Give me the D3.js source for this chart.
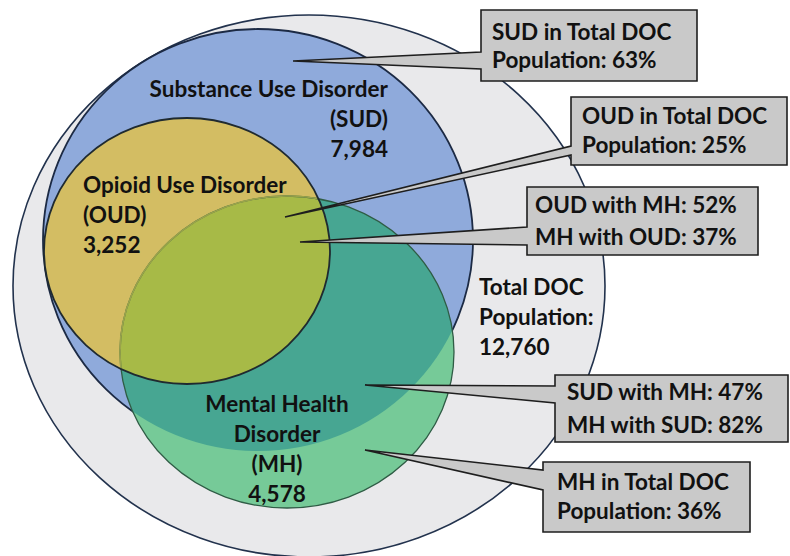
<!DOCTYPE html>
<html><head><meta charset="utf-8">
<script src="https://cdn.jsdelivr.net/npm/d3@7"></script>
<style>html,body{margin:0;padding:0;background:#fff;}svg{display:block;}</style>
</head><body><svg id="c" width="790" height="556"></svg>
<script>
// ---- data ----
const setKeys = ["TOTAL", "SUD", "OUD", "MH"];
const setCounts = [12760, 7984, 3252, 4578];
const setNames = [["Total DOC", "Population:"], ["Substance Use Disorder", "(SUD)"], ["Opioid Use Disorder", "(OUD)"], ["Mental Health", "Disorder", "(MH)"]];
const calloutText = [
  ["SUD in Total DOC", "Population: 63%"],
  ["OUD in Total DOC", "Population: 25%"],
  ["OUD with MH: 52%", "MH with OUD: 37%"],
  ["SUD with MH: 47%", "MH with SUD: 82%"],
  ["MH in Total DOC", "Population: 36%"]
];

// ---- layout (geometry / style) ----
const shapes = {
  TOTAL: {cx: 309, cy: 286, rx: 296, ry: 271, fill: "#e9e9eb", stroke: "#22324d"},
  SUD:   {cx: 258, cy: 240, rx: 215, ry: 211, fill: "#8faadb", stroke: "#1c2a44"},
  OUD:   {cx: 187, cy: 251, rx: 143, ry: 133, fill: "#d3bd63", stroke: "#1f2a30"},
  MH:    {cx: 287, cy: 352, rx: 167, ry: 156, fill: "#76ca98", stroke: "#2f5c45"}
};
const labelPos = {
  TOTAL: {x: 479, y: 295, anchor: "start"},
  SUD:   {x: 388, y: 97, anchor: "end"},
  OUD:   {x: 83, y: 193, anchor: "start"},
  MH:    {x: 277, y: 412, anchor: "middle"}
};
const lineH = 30;
const callouts = [
  {x0: 481, y0: 10, x1: 697, y1: 81, tip: [293, 61], b: [52, 69], tx: 492, ty: [40, 68]},
  {x0: 571, y0: 97, x1: 787, y1: 165, tip: [285, 217], b: [146, 155], tx: 582, ty: [124, 153]},
  {x0: 527, y0: 187, x1: 758, y1: 255, tip: [300, 242], b: [227, 245], tx: 535, ty: [213, 245]},
  {x0: 555, y0: 375, x1: 788, y1: 442, tip: [365, 385], b: [386, 403], tx: 567, ty: [400, 433]},
  {x0: 543, y0: 462, x1: 750, y1: 532, tip: [365, 450], b: [470, 490], tx: 557, ty: [490, 519]}
];
const fontFamily = "Lato, 'Open Sans', sans-serif";
const fontSize = 22.5;

const svg = d3.select("#c");
const defs = svg.append("defs");
const fmt = d3.format(",");

function ellipse(sel, s) {
  return sel.append("ellipse").attr("cx", s.cx).attr("cy", s.cy).attr("rx", s.rx).attr("ry", s.ry);
}
["SUD", "OUD", "MH"].forEach(k => {
  ellipse(defs.append("clipPath").attr("id", "clip-" + k), shapes[k]);
});

const g = svg.append("g");
// base sets
ellipse(g, shapes.TOTAL).attr("fill", shapes.TOTAL.fill).attr("stroke", shapes.TOTAL.stroke).attr("stroke-width", 1.6);
ellipse(g, shapes.SUD).attr("fill", shapes.SUD.fill).attr("stroke", shapes.SUD.stroke).attr("stroke-width", 1.8);
ellipse(g, shapes.OUD).attr("fill", shapes.OUD.fill);
// MH with overlap colours
ellipse(g, shapes.MH).attr("fill", shapes.MH.fill);
ellipse(g.append("g").attr("clip-path", "url(#clip-SUD)"), shapes.MH).attr("fill", "#47a692");
ellipse(g.append("g").attr("clip-path", "url(#clip-OUD)"), shapes.MH).attr("fill", "#a7ba47");
// MH outline: olive inside OUD, dark green elsewhere
ellipse(g, shapes.MH).attr("fill", "none").attr("stroke", shapes.MH.stroke).attr("stroke-width", 1.3);
ellipse(g.append("g").attr("clip-path", "url(#clip-OUD)"), shapes.MH).attr("fill", "none").attr("stroke", "#9aa34a").attr("stroke-width", 1.6);
// OUD outline on top
ellipse(g, shapes.OUD).attr("fill", "none").attr("stroke", shapes.OUD.stroke).attr("stroke-width", 1.8);

// set labels
setKeys.forEach((k, i) => {
  const p = labelPos[k];
  const lines = setNames[i].concat([fmt(setCounts[i])]);
  const t = g.append("text").attr("font-family", fontFamily).attr("font-weight", 700)
    .attr("font-size", fontSize).attr("fill", "#111").attr("text-anchor", p.anchor);
  lines.forEach((ln, j) => t.append("tspan").attr("x", p.x).attr("y", p.y + j * lineH).text(ln));
});

// callouts
callouts.forEach((c, i) => {
  const path = d3.path();
  path.moveTo(c.x0, c.y0);
  path.lineTo(c.x1, c.y0);
  path.lineTo(c.x1, c.y1);
  path.lineTo(c.x0, c.y1);
  path.lineTo(c.x0, c.b[1]);
  path.lineTo(c.tip[0], c.tip[1]);
  path.lineTo(c.x0, c.b[0]);
  path.closePath();
  g.append("path").attr("d", path.toString()).attr("fill", "#c9c9c9")
    .attr("stroke", "#1e1e1e").attr("stroke-width", 1.6).attr("stroke-linejoin", "miter");
  const t = g.append("text").attr("font-family", fontFamily).attr("font-weight", 700)
    .attr("font-size", fontSize).attr("fill", "#111");
  calloutText[i].forEach((ln, j) => t.append("tspan").attr("x", c.tx).attr("y", c.ty[j]).text(ln));
});
</script></body></html>
